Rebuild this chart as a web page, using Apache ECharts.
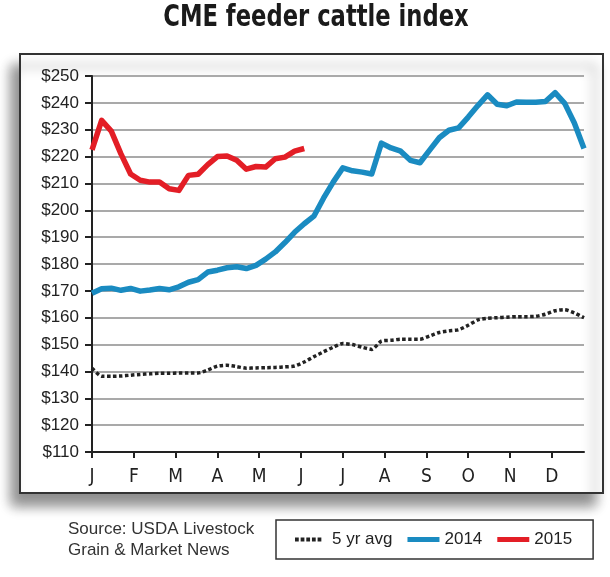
<!DOCTYPE html>
<html>
<head>
<meta charset="utf-8">
<title>CME feeder cattle index</title>
<script src="https://cdn.jsdelivr.net/npm/echarts@6/dist/echarts.min.js"></script>
<style>
  html, body { margin: 0; padding: 0; background: #fff; }
  #chart { width: 610px; height: 577px; }
</style>
</head>
<body>
<div id="chart"></div>
<script>
// month letters shown under the x axis (weekly data, 52 weeks)
const monthLabels = ['J', 'F', 'M', 'A', 'M', 'J', 'J', 'A', 'S', 'O', 'N', 'D'];

// 5 year average, $/cwt, weekly
const avg5yr = [141.2, 138.2, 138.2, 138.3, 138.6, 138.9, 139.1, 139.3, 139.3, 139.4,
  139.4, 139.4, 140.5, 142.0, 142.3, 141.8, 141.2, 141.3, 141.4, 141.5,
  141.7, 142.0, 143.5, 145.5, 147.3, 149.0, 150.4, 150.0, 149.0, 148.2,
  151.3, 151.6, 152.0, 152.0, 152.0, 153.2, 154.5, 155.1, 155.5, 157.2,
  159.2, 159.8, 160.0, 160.2, 160.4, 160.4, 160.5, 161.3, 162.6, 163.0,
  161.8, 160.0];

// 2014 weekly
const y2014 = [169.1, 170.8, 171.0, 170.2, 170.9, 169.9, 170.3, 170.9, 170.4, 171.5,
  173.2, 174.2, 177.0, 177.7, 178.6, 179.0, 178.3, 179.5, 181.8, 184.5,
  188.0, 191.8, 195.0, 197.8, 204.5, 210.5, 215.8, 214.7, 214.2, 213.5,
  225.0, 223.2, 222.0, 218.6, 217.7, 222.4, 227.0, 229.8, 230.7, 234.7,
  239.0, 243.0, 239.5, 238.9, 240.3, 240.2, 240.2, 240.5, 243.8, 239.8,
  232.5, 223.0];

// 2015 weekly (year to date)
const y2015 = [222.5, 233.5, 229.5, 221.0, 213.5, 211.2, 210.5, 210.5, 208.0, 207.4,
  213.0, 213.4, 217.0, 220.0, 220.2, 218.6, 215.3, 216.3, 216.1, 219.2,
  219.8, 222.0, 223.0];

const weeksPerMonth = 52 / 12;
const monthTicks = monthLabels.map((m, i) => i * weeksPerMonth);

const toPoints = arr => arr.map((v, i) => [i, v]);

const chart = echarts.init(document.getElementById('chart'));

chart.setOption({
    animation: false,
    title: {
        text: 'Source: USDA Livestock\nGrain & Market News',
        left: 68,
        top: 519,
        padding: 0,
        textStyle: {
            fontFamily: '"Liberation Sans", Arial, sans-serif',
            fontWeight: 'normal',
            fontSize: 17,
            lineHeight: 21,
            color: '#333'
        }
    },
    graphic: [
        {
            type: 'rect',
            z: -10,
            silent: true,
            shape: { x: 20, y: 54, width: 583, height: 439 },
            style: {
                fill: '#fff',
                stroke: '#333',
                lineWidth: 2,
                shadowBlur: 12,
                shadowOffsetX: -8,
                shadowOffsetY: 12,
                shadowColor: 'rgba(0,0,0,0.45)'
            }
        },
        {
            // condensed headline: squeeze the bold face horizontally
            type: 'text',
            silent: true,
            x: 316,
            y: 33,
            scaleX: 0.84,
            style: {
                text: 'CME feeder cattle index',
                font: 'bold 30px "DejaVu Sans Condensed", "Liberation Sans", sans-serif',
                fill: '#1a1a1a',
                textAlign: 'center',
                textVerticalAlign: 'bottom'
            }
        }
    ],
    legend: {
        left: 276,
        top: 520,
        padding: [11, 21, 11, 19],
        borderColor: '#333',
        borderWidth: 1.5,
        backgroundColor: '#fff',
        itemWidth: 32,
        itemHeight: 5,
        itemGap: 15,
        textStyle: {
            fontFamily: '"Liberation Sans", Arial, sans-serif',
            fontSize: 17,
            color: '#222'
        },
        data: [
            {
                name: '5 yr avg',
                icon: 'path://M0,0h4v4h-4z M6,0h4v4h-4z M12,0h4v4h-4z M18,0h4v4h-4z M24,0h4v4h-4z M34,4'
            },
            { name: '2014', icon: 'rect' },
            { name: '2015', icon: 'rect' }
        ]
    },
    grid: {
        left: 92,
        right: 26,
        top: 76,
        bottom: 125
    },
    xAxis: {
        type: 'value',
        min: 0,
        max: 51,
        axisLine: { lineStyle: { color: '#222', width: 2 } },
        axisTick: {
            customValues: monthTicks,
            length: 6,
            lineStyle: { color: '#222', width: 2 }
        },
        axisLabel: {
            customValues: monthTicks,
            margin: 16,
            fontFamily: '"Liberation Sans Narrow", "DejaVu Sans Condensed", sans-serif',
            fontSize: 19,
            color: '#222',
            formatter: v => monthLabels[Math.round(v / weeksPerMonth)] || ''
        },
        splitLine: { show: false }
    },
    yAxis: {
        type: 'value',
        min: 110,
        max: 250,
        interval: 10,
        axisLine: { show: true, lineStyle: { color: '#222', width: 2 } },
        axisTick: { show: true, length: 7, lineStyle: { color: '#222', width: 2 } },
        axisLabel: {
            margin: 13,
            fontFamily: '"Liberation Sans", Arial, sans-serif',
            fontSize: 17,
            color: '#222',
            formatter: v => '$' + v
        },
        splitLine: { lineStyle: { color: '#a9a9a9', width: 2 } }
    },
    series: [
        {
            name: '5 yr avg',
            type: 'line',
            showSymbol: false,
            symbol: 'none',
            smooth: 0.2,
            itemStyle: { color: '#222' },
            lineStyle: { color: '#222', width: 3.5, type: [3.5, 2.5], cap: 'butt' },
            data: toPoints(avg5yr)
        },
        {
            name: '2014',
            type: 'line',
            showSymbol: false,
            symbol: 'none',
            itemStyle: { color: '#1a8bc1' },
            lineStyle: { color: '#1a8bc1', width: 5.5, join: 'round' },
            data: toPoints(y2014)
        },
        {
            name: '2015',
            type: 'line',
            showSymbol: false,
            symbol: 'none',
            itemStyle: { color: '#e31e26' },
            lineStyle: { color: '#e31e26', width: 5.5, join: 'round' },
            data: toPoints(y2015)
        }
    ]
});
</script>
</body>
</html>
